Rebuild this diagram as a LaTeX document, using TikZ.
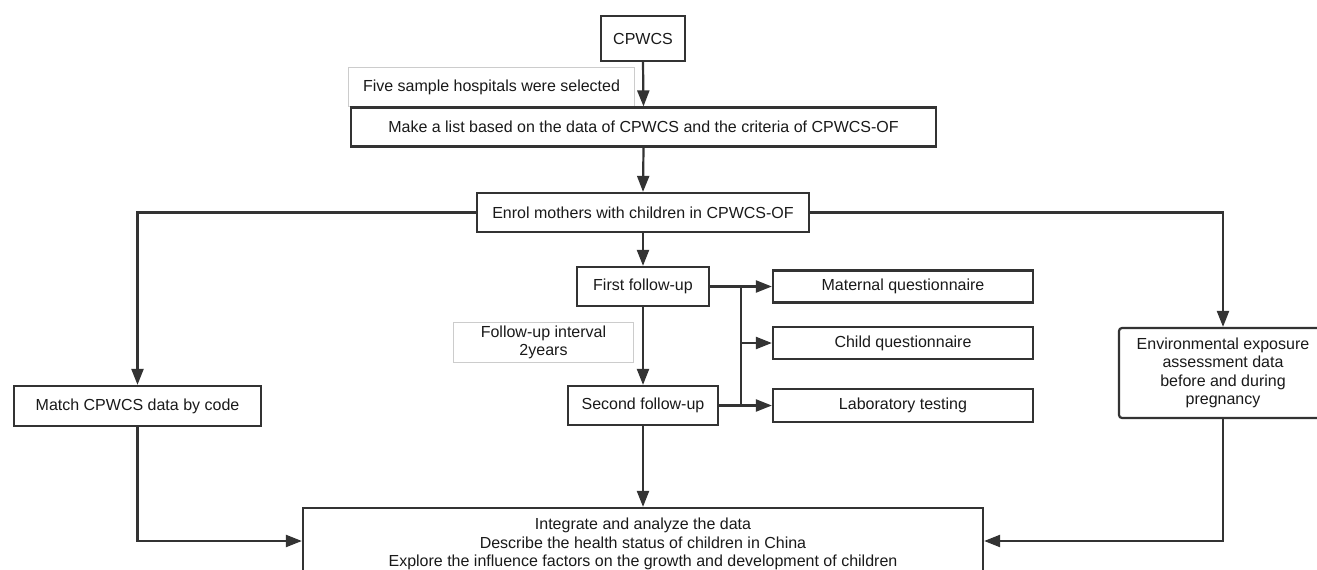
\documentclass[tikz,border=0pt]{standalone}
\usepackage{fontspec}
\setmainfont{Liberation Sans}
\usetikzlibrary{arrows.meta}
\definecolor{ln}{HTML}{333333}
\definecolor{tx}{HTML}{1A1A1A}
\definecolor{lb}{HTML}{CCCCCC}
\begin{document}
\begin{tikzpicture}[x=1pt,y=-1pt,
  box/.style={draw=ln,line width=2.2pt,fill=white,inner sep=0pt,align=center,text=tx,font=\fontsize{16}{18.4}\selectfont},
  lbl/.style={draw=lb,line width=1pt,fill=white,inner sep=0pt,align=center,text=tx,font=\fontsize{16}{18.4}\selectfont},
  arr/.style={draw=ln,line width=2.2pt,-{Triangle[length=16pt,width=12pt]}},
  con/.style={draw=ln,line width=2.2pt}]
\useasboundingbox (0,0) rectangle (1317,570);
\clip (0,0) rectangle (1317,570);
\node[box,minimum width=84pt,minimum height=45pt] (cpwcs) at (643,38.5) {CPWCS};
\node[lbl,minimum width=286pt,minimum height=39pt] (five) at (491.5,87) {Five sample hospitals were selected};
\node[box,minimum width=585pt,minimum height=39pt] (list) at (643.5,127) {Make a list based on the data of CPWCS and the criteria of CPWCS-OF};
\node[box,minimum width=332pt,minimum height=39pt] (enrol) at (643,212.5) {Enrol mothers with children in CPWCS-OF};
\node[box,minimum width=132pt,minimum height=39pt] (first) at (643,286.5) {First follow-up};
\node[lbl,minimum width=180pt,minimum height=40pt] (interval) at (543.5,342.5) {Follow-up interval\\2years};
\node[box,minimum width=150pt,minimum height=39pt] (second) at (643,405.5) {Second follow-up};
\node[box,minimum width=260pt,minimum height=32pt] (maternal) at (903,286.5) {Maternal questionnaire};
\node[box,minimum width=260pt,minimum height=32pt] (child) at (903,343) {Child questionnaire};
\node[box,minimum width=260pt,minimum height=33pt] (lab) at (903,405.5) {Laboratory testing};
\node[box,minimum width=247pt,minimum height=40pt] (match) at (137.5,406) {Match CPWCS data by code};
\node[box,rounded corners=3pt,minimum width=208pt,minimum height=90pt] (env) at (1223,373) {Environmental exposure\\assessment data\\before and during\\pregnancy};
\node[box,minimum width=680pt,minimum height=72pt] (bottom) at (643,544) {Integrate and analyze the data\\Describe the health status of children in China\\Explore the influence factors on the growth and development of children};
\coordinate (br) at (741,286.5);
\coordinate (brb) at (741,405.5);
\draw[arr] (cpwcs.south) -- (list.north);
\draw[arr] (list.south) -- (enrol.north);
\draw[arr] (enrol.west) -| (match.north);
\draw[arr] (enrol.east) -| (env.north);
\draw[arr] (enrol.south) -- (first.north);
\draw[arr] (first.south) -- (second.north);
\draw[arr] (first.east) -- (maternal.west);
\draw[con] (br) -- (brb);
\draw[arr] (br |- child.west) -- (child.west);
\draw[arr] (second.east) -- (lab.west);
\draw[arr] (second.south) -- (bottom.north);
\draw[arr] (match.south) |- ([yshift=3pt]bottom.west);
\draw[arr] (env.south) |- ([yshift=3pt]bottom.east);
\end{tikzpicture}
\end{document}
